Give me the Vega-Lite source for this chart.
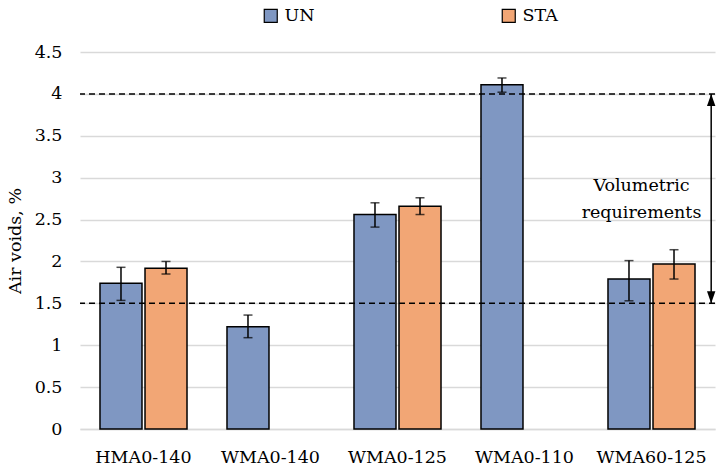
{
  "$schema": "https://vega.github.io/schema/vega-lite/v6.json",
  "autosize": {"type": "none"},
  "padding": {"left": 80, "top": 52, "right": 13, "bottom": 45},
  "width": 635,
  "height": 377,
  "background": "white",
  "config": {
    "font": "DejaVu Serif",
    "view": {"stroke": null},
    "text": {"font": "DejaVu Serif"},
    "legend": {"labelFont": "DejaVu Serif"},
    "axis": {"labelFont": "DejaVu Serif", "titleFont": "DejaVu Serif", "labelColor": "#000", "titleColor": "#000"}
  },
  "datasets": {
    "bars": [
      {"mix": "HMA0-140", "cond": "UN", "voids": 1.74, "lo": 1.535, "hi": 1.93},
      {"mix": "HMA0-140", "cond": "STA", "voids": 1.92, "lo": 1.85, "hi": 2.0},
      {"mix": "WMA0-140", "cond": "UN", "voids": 1.22, "lo": 1.09, "hi": 1.36},
      {"mix": "WMA0-125", "cond": "UN", "voids": 2.56, "lo": 2.41, "hi": 2.70},
      {"mix": "WMA0-125", "cond": "STA", "voids": 2.66, "lo": 2.56, "hi": 2.76},
      {"mix": "WMA0-110", "cond": "UN", "voids": 4.11, "lo": 4.02, "hi": 4.19},
      {"mix": "WMA60-125", "cond": "UN", "voids": 1.79, "lo": 1.53, "hi": 2.01},
      {"mix": "WMA60-125", "cond": "STA", "voids": 1.97, "lo": 1.79, "hi": 2.14}
    ],
    "limits": [
      {"limit": 4.0},
      {"limit": 1.5}
    ]
  },
  "layer": [
    {
      "data": {"name": "bars"},
      "mark": {"type": "bar", "stroke": "#000", "strokeWidth": 1.5},
      "encoding": {
        "x": {
          "field": "mix", "type": "nominal", "sort": null,
          "scale": {"domain": ["HMA0-140", "WMA0-140", "WMA0-125", "WMA0-110", "WMA60-125"], "paddingInner": 0, "paddingOuter": 0},
          "axis": {"title": null, "labelAngle": 0, "labelFontSize": 17.5, "labelPadding": 19, "ticks": false, "domainColor": "#d9d9d9", "domainWidth": 1.5, "grid": false}
        },
        "xOffset": {
          "field": "cond", "type": "nominal",
          "scale": {"domain": ["UN", "STA"], "paddingInner": 0.067, "paddingOuter": 0.444}
        },
        "y": {
          "field": "voids", "type": "quantitative",
          "scale": {"domain": [0, 4.5], "nice": false},
          "axis": {"title": "Air voids, %", "titleFontSize": 17.5, "titleFontWeight": "normal", "titlePadding": 10, "labelFontSize": 17.5, "labelPadding": 18, "format": "~g", "values": [0, 0.5, 1, 1.5, 2, 2.5, 3, 3.5, 4, 4.5], "ticks": false, "domain": false, "gridColor": "#d9d9d9", "gridWidth": 1.5}
        },
        "fill": {
          "field": "cond", "type": "nominal",
          "scale": {"domain": ["UN", "STA"], "range": ["#7f97c2", "#f2a675"]},
          "legend": {
            "title": null, "orient": "none", "direction": "horizontal",
            "legendX": 182, "legendY": -45,
            "symbolType": "square", "symbolSize": 169, "symbolStrokeColor": "#000", "symbolStrokeWidth": 1.2,
            "labelFontSize": 17.5, "labelOffset": 5, "columnPadding": 184, "labelColor": "#000"
          }
        }
      }
    },
    {
      "data": {"name": "bars"},
      "mark": {"type": "rule", "color": "#000", "strokeWidth": 1.5},
      "encoding": {
        "x": {"field": "mix", "type": "nominal", "sort": null},
        "xOffset": {"field": "cond", "type": "nominal"},
        "y": {"field": "lo", "type": "quantitative"},
        "y2": {"field": "hi"}
      }
    },
    {
      "data": {"name": "bars"},
      "mark": {"type": "tick", "color": "#000", "thickness": 1.5, "size": 9, "orient": "horizontal"},
      "encoding": {
        "x": {"field": "mix", "type": "nominal", "sort": null},
        "xOffset": {"field": "cond", "type": "nominal"},
        "y": {"field": "lo", "type": "quantitative"}
      }
    },
    {
      "data": {"name": "bars"},
      "mark": {"type": "tick", "color": "#000", "thickness": 1.5, "size": 9, "orient": "horizontal"},
      "encoding": {
        "x": {"field": "mix", "type": "nominal", "sort": null},
        "xOffset": {"field": "cond", "type": "nominal"},
        "y": {"field": "hi", "type": "quantitative"}
      }
    },
    {
      "data": {"name": "limits"},
      "mark": {"type": "rule", "color": "#000", "strokeWidth": 1.5, "strokeDash": [6, 4]},
      "encoding": {
        "y": {"field": "limit", "type": "quantitative"}
      }
    },
    {
      "data": {"values": [{"top": 4.0, "bottom": 1.5}]},
      "mark": {"type": "rule", "color": "#000", "strokeWidth": 1.5},
      "encoding": {
        "x": {"datum": "WMA60-125", "bandPosition": 0.97},
        "y": {"field": "top", "type": "quantitative"},
        "y2": {"field": "bottom"}
      }
    },
    {
      "data": {"values": [{"top": 4.0}]},
      "mark": {"type": "point", "filled": true, "color": "#000", "opacity": 1, "size": 576, "shape": "M0,0L-0.35,1L0.35,1Z"},
      "encoding": {
        "x": {"datum": "WMA60-125", "bandPosition": 0.97},
        "y": {"field": "top", "type": "quantitative"}
      }
    },
    {
      "data": {"values": [{"bottom": 1.5}]},
      "mark": {"type": "point", "filled": true, "color": "#000", "opacity": 1, "size": 576, "shape": "M0,0L-0.35,-1L0.35,-1Z"},
      "encoding": {
        "x": {"datum": "WMA60-125", "bandPosition": 0.97},
        "y": {"field": "bottom", "type": "quantitative"}
      }
    },
    {
      "data": {"values": [{"note": "Volumetric requirements", "at": 2.9}]},
      "mark": {"type": "text", "fontSize": 17.5, "color": "#000", "lineHeight": 27, "dx": -10, "baseline": "middle", "align": "center"},
      "encoding": {
        "x": {"datum": "WMA60-125", "bandPosition": 0.5},
        "y": {"field": "at", "type": "quantitative"},
        "text": {"value": ["Volumetric", "requirements"]}
      }
    }
  ]
}
